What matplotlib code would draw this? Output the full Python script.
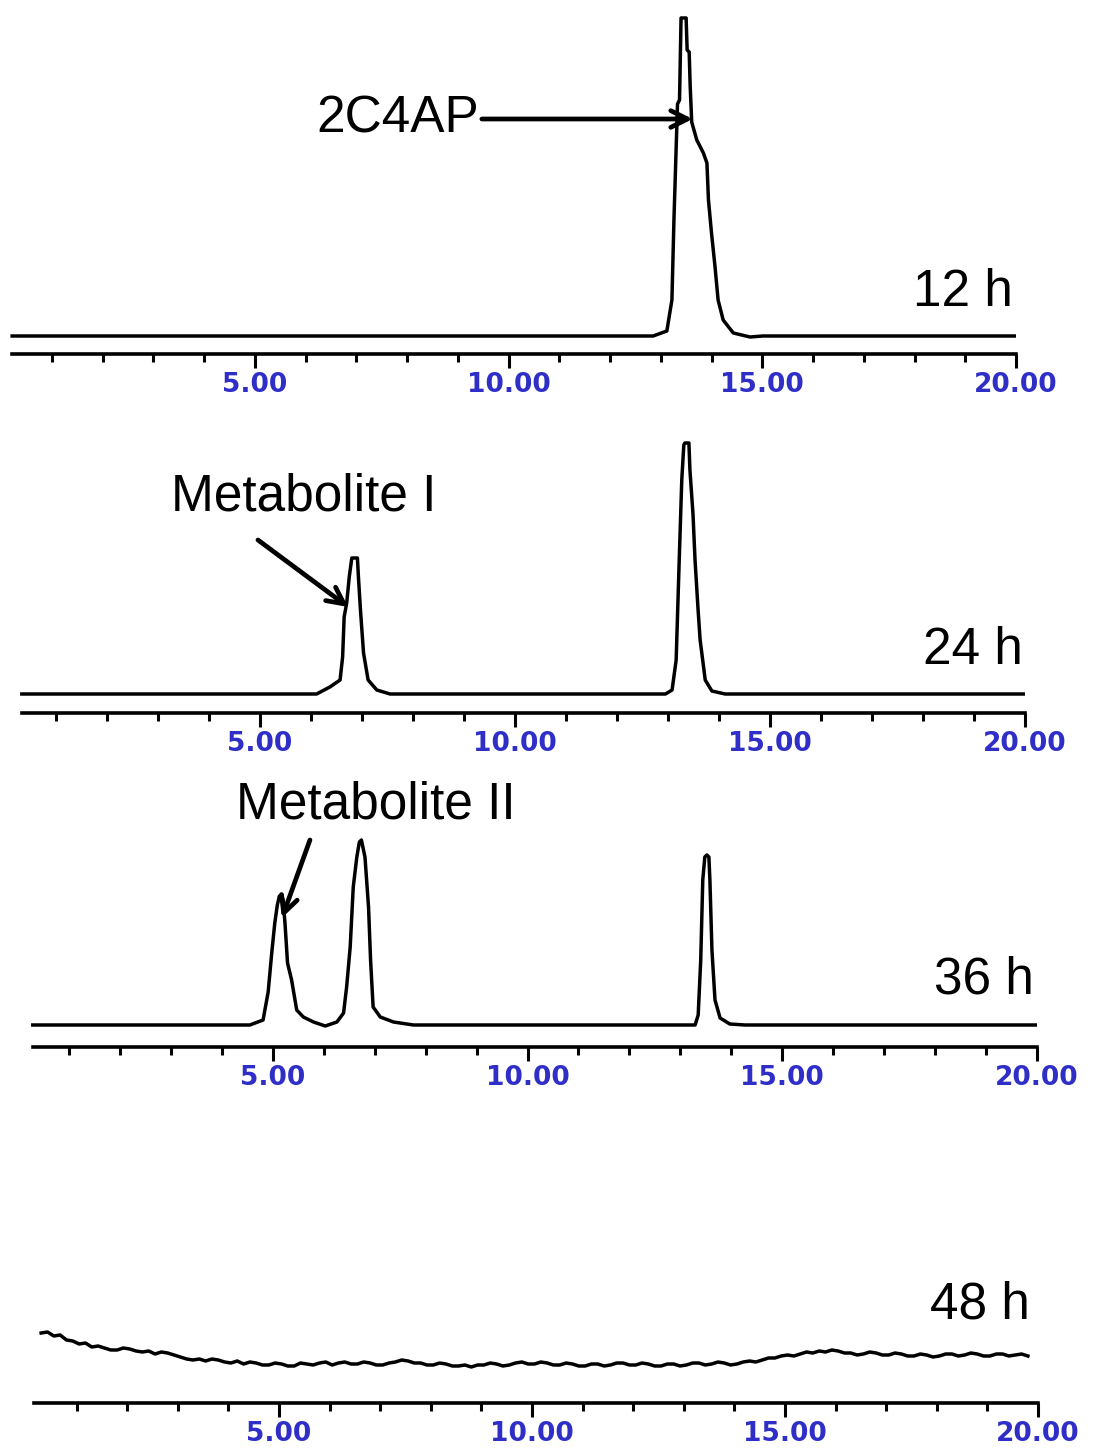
import matplotlib.pyplot as plt
import numpy as np

W, H = 1095, 1454

# 12 h trace: retention time (min), detector response (arbitrary units)
t12 = [0.22, 12.85, 13.12, 13.22, 13.26, 13.33, 13.37, 13.40, 13.50, 13.52, 13.56,
       13.58, 13.61, 13.71, 13.84, 13.91, 13.94, 14.00, 14.07, 14.13, 14.23, 14.43,
       14.76, 15.01, 20.0]
i12 = [0, 0, 5, 36, 116, 232, 236, 318, 318, 286, 284,
       250, 214, 196, 183, 173, 136, 103, 69, 36, 16, 3,
       -1, 0, 0]

# 24 h trace
t24 = [0.33, 6.11, 6.37, 6.57, 6.62, 6.65, 6.70, 6.75, 6.80, 6.91, 6.93, 6.97,
       7.03, 7.12, 7.29, 7.55, 12.95, 13.08, 13.16, 13.22, 13.27, 13.31, 13.33, 13.41,
       13.43, 13.49, 13.53, 13.59, 13.63, 13.73, 13.86, 14.12, 20.0]
i24 = [0, 0, 7, 14, 37, 77, 91, 117, 136, 136, 117, 84,
       41, 14, 4, 0, 0, 4, 34, 134, 214, 249, 251, 251,
       224, 180, 134, 84, 54, 14, 3, 0, 0]

# 36 h trace
t36 = [0.29, 4.55, 4.81, 4.91, 4.98, 5.04, 5.09, 5.13, 5.20, 5.24, 5.29, 5.37,
       5.47, 5.60, 5.80, 6.03, 6.26, 6.39, 6.45, 6.52, 6.58, 6.65, 6.70, 6.74,
       6.81, 6.88, 6.92, 6.97, 7.11, 7.37, 7.76, 13.29, 13.35, 13.40, 13.44,
       13.48, 13.52, 13.56, 13.58, 13.62, 13.68, 13.78, 13.97, 14.27, 20.0]
i36 = [0, 0, 5, 33, 72, 102, 120, 129, 126, 102, 62, 45,
       15, 8, 3, -1, 3, 12, 38, 78, 138, 168, 183, 185,
       168, 118, 65, 18, 8, 3, 0, 0, 10, 65, 145,
       168, 170, 168, 145, 75, 25, 7, 1, 0, 0]

# 48 h trace, sampled every 0.125 min from 0.3 min
t48_start, t48_step = 0.3, 0.125
i48 = [70, 71, 67, 68, 63, 62, 59, 60, 56, 57, 55, 53, 53, 55, 54, 52,
       51, 52, 49, 51, 50, 48, 46, 44, 43, 44, 42, 44, 43, 41, 40, 42,
       39, 41, 40, 38, 38, 40, 39, 37, 37, 40, 39, 38, 40, 41, 38, 40,
       41, 39, 39, 41, 40, 38, 38, 40, 41, 43, 42, 40, 40, 38, 38, 40,
       39, 37, 37, 38, 36, 38, 38, 40, 39, 37, 38, 40, 41, 39, 39, 41,
       40, 38, 38, 40, 39, 37, 37, 39, 39, 37, 38, 40, 40, 38, 38, 40,
       39, 37, 37, 39, 39, 37, 38, 40, 40, 38, 39, 41, 40, 38, 39, 41,
       42, 41, 43, 45, 45, 47, 48, 47, 49, 51, 50, 52, 51, 53, 52, 50,
       50, 48, 49, 51, 50, 48, 48, 50, 49, 47, 47, 49, 48, 46, 47, 49,
       49, 47, 48, 50, 49, 47, 47, 49, 49, 47, 48, 49, 47]

major_ticks = [5, 10, 15, 20]
major_labels = ['5.00', '10.00', '15.00', '20.00']
minor_ticks = list(range(1, 20))

BLUE = '#2f2fc8'
TXT = dict(family='Liberation Sans', fontsize=37, color='black')
ARROW = dict(arrowstyle='->', lw=3.4, color='black', mutation_scale=30,
             shrinkA=0, shrinkB=0)


def make_panel(fig, x0, x20, axis_y, base_y, top_y, start):
    # pixel geometry -> figure fractions, baseline of trace at y=0
    ax = fig.add_axes([x0 / W, 1 - axis_y / H, (x20 - x0) / W, (axis_y - top_y) / H])
    ax.set_xlim(0, 20)
    ax.set_ylim(base_y - axis_y, base_y - top_y)
    for s in ['top', 'left', 'right']:
        ax.spines[s].set_visible(False)
    ax.spines['bottom'].set_bounds(start, 20)
    ax.spines['bottom'].set_linewidth(2.6)
    ax.set_yticks([])
    ax.set_xticks(major_ticks)
    ax.set_xticklabels(major_labels)
    ax.set_xticks(minor_ticks, minor=True)
    ax.tick_params(axis='x', which='major', length=10, width=2.2, pad=3,
                   labelsize=19, labelcolor=BLUE)
    ax.tick_params(axis='x', which='minor', length=6, width=2.2)
    for lab in ax.get_xticklabels():
        lab.set_fontweight('bold')
    ax.patch.set_alpha(0)
    return ax


fig = plt.figure(figsize=(W / 100, H / 100), dpi=100)

ax1 = make_panel(fig, 1, 1016, 354, 336, 0, 0.22)
ax1.plot(t12, i12, color='black', lw=2.5)
ax1.annotate('2C4AP', xy=(13.63, 217), xytext=(9.42, 217), ha='right', va='center',
             arrowprops=ARROW, **TXT)
ax1.text(18.96, 43, '12 h', ha='center', va='center', **TXT)

ax2 = make_panel(fig, 5, 1025, 713, 694, 400, 0.33)
ax2.plot(t24, i24, color='black', lw=2.5)
ax2.text(5.86, 197, 'Metabolite I', ha='center', va='center', **TXT)
ax2.annotate('', xy=(6.73, 87), xytext=(4.96, 154), arrowprops=ARROW)
ax2.text(18.98, 44, '24 h', ha='center', va='center', **TXT)

ax3 = make_panel(fig, 18, 1037, 1047, 1025, 760, 0.29)
ax3.plot(t36, i36, color='black', lw=2.5)
ax3.text(7.03, 220, 'Metabolite II', ha='center', va='center', **TXT)
ax3.annotate('', xy=(5.18, 107), xytext=(5.73, 185), arrowprops=ARROW)
ax3.text(18.96, 45, '36 h', ha='center', va='center', **TXT)

ax4 = make_panel(fig, 26, 1038, 1403, 1403, 1250, 0.16)
t48 = t48_start + t48_step * np.arange(len(i48))
ax4.plot(t48, i48, color='black', lw=2.5)
ax4.text(18.85, 98, '48 h', ha='center', va='center', **TXT)

fig.savefig('out.png', dpi=100)
